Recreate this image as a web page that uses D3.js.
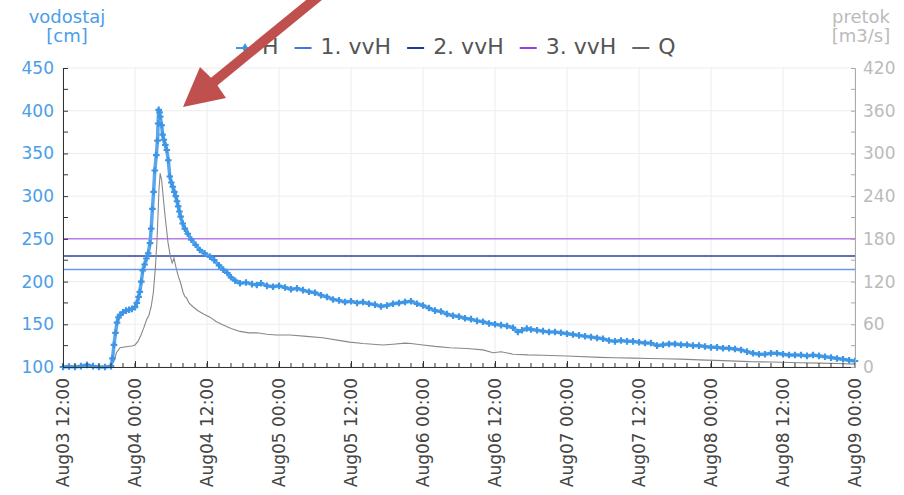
<!DOCTYPE html>
<html>
<head>
<meta charset="utf-8">
<script src="https://cdn.jsdelivr.net/npm/d3@7"></script>
<style>
  body { margin: 0; background: #fff; }
  svg { font-family: "DejaVu Sans", sans-serif; }
</style>
</head>
<body>
<div id="chart"></div>
<script>
// hours since Aug03 12:00
const hHours = [0,1,2,3,4,5,6,7,8,8.25,8.5,8.75,9,9.25,9.5,10,10.5,11,11.5,12,12.3,12.6,12.8,13.05,13.3,13.6,13.9,14.2,14.5,14.7,14.9,15.1,15.3,15.55,15.75,15.85,15.95,16.1,16.2,16.45,16.6,16.8,17.05,17.3,17.55,17.8,18.05,18.3,18.55,18.8,19,19.2,19.4,19.6,19.95,20.3,20.8,21.4,22.1,22.8,23.6,24.5,25.2,26,26.7,27.4,28,28.7,29.5,30.5,31.5,32.3,33,34,35,36,37,38,39,40,41,42,43,44,45,46,47,48,49,50,51,52,53,54,55,56,57,58,59,60,61,62,63,64,65,66,67,68,69,70,71,72,73,74,75,75.8,76.5,77.3,78,79,80,81,82,83,84,85,86,87,88,89,90,91,92,93,94,95,96,97,98,99,100,101,102,103,104,105,106,107,108,109,110,111,112,113,114,115,116,117,118,119,120,121,122,123,124,125,126,127,128,129,130,131,132];
const hValues = [100,100.5,100,101,102.5,101,100,100,101,110,126,140,152,158,161,164,166,167,168,170,175,182,188,200,213,220,227,233,245,262,285,305,330,348,365,385,401,398,393,383,372,366,360,354,342,323,316,311,305,300,294,288,282,276,268,262,256,249,243,237,233,229,225,219,214,210,205,201,198,199,197,196,198,195,194,195,193,191,192,190,188,187,184,182,179,178,176,177,175,176,174,173,171,172,174,175,176,177,174,172,169,166,165,162,160,159,157,156,154,153,151,150,149,148,146,141,143,145,144,143,142,141,141,140,139,138,137,136,135,134,133,131,130,131,130,130,129,128,128,125,126,127,127,126,126,125,125,124,123,123,122,122,121,120,118,116,115,115,116,116,115,114,114,114,113,114,113,112,111,110,109,108,107];

const qHours = [0,1,2,3,4,5,6,7,8,8.5,8.9,9.5,10.5,11.5,12,12.5,13,13.5,14,14.3,14.7,15.05,15.4,15.65,15.8,16,16.2,16.45,16.8,17.1,17.5,17.9,18.2,18.5,18.8,19.2,19.6,20,20.3,20.6,21,21.6,22.5,23.5,24.5,25.5,26.7,28,29.5,31,32.3,34,35.5,37.8,40.6,43.3,46.2,47.8,50,53.3,55,57,58,60,62,64.5,67.3,70,71.7,73,75,77.5,80,84,89.5,92,95,97.8,100,103,106,110,114.5,118,122.8,126,129,132];
const qValues = [0.5,0.5,0.5,0.5,0.5,0.5,0.5,0.5,1,8,20,27,28.5,29.5,31,36,45,56,68,72,85,104,140,175,206,250,272,262,230,205,175,155,146,153,141,128,118,105,99,97,90,85,79,74,70,64,59,54,50,48,48,46,45,45,43,41,37,35,33,31,32,33.5,33,31,29,27,26,24,20,21.5,18,17,16.5,15.5,13.5,13,12.5,12,11.5,11,10,9,7.5,7,6,5.5,5,4];

const thresholdNames = ["1. vvH", "2. vvH", "3. vvH"];
const thresholdValues = [214, 230, 250];
const thresholdColors = ["#3c78e6", "#2038a0", "#9b3ae6"];

const legendNames = ["H", "1. vvH", "2. vvH", "3. vvH", "Q"];
const legendColors = ["#3d95e6", "#3c78e6", "#2038a0", "#9b3ae6", "#666"];

const leftTicks = [100, 150, 200, 250, 300, 350, 400, 450];
const rightTicks = [0, 60, 120, 180, 240, 300, 360, 420];

const W = 904, H = 495;
const margin = {left: 63, right: 49, top: 68, bottom: 128};
const start = Date.UTC(2023, 7, 3, 12);
const end = Date.UTC(2023, 7, 9, 0);
const toDate = h => new Date(start + h * 3600e3);

const svg = d3.select("#chart").append("svg").attr("width", W).attr("height", H);

const x = d3.scaleUtc().domain([new Date(start), new Date(end)]).range([margin.left, W - margin.right]);
const yL = d3.scaleLinear().domain([100, 450]).range([H - margin.bottom, margin.top]);
const yR = d3.scaleLinear().domain([0, 420]).range([H - margin.bottom, margin.top]);

const major = x.ticks(d3.utcHour.every(12));
const minor = x.ticks(d3.utcHour.every(2));

// grid
const grid = svg.append("g");
grid.selectAll("line.v").data(major).join("line")
  .attr("x1", d => x(d)).attr("x2", d => x(d))
  .attr("y1", margin.top).attr("y2", H - margin.bottom)
  .attr("stroke", "#ececec").attr("stroke-width", 1);
grid.selectAll("line.h").data(leftTicks).join("line")
  .attr("x1", margin.left).attr("x2", W - margin.right)
  .attr("y1", d => yL(d)).attr("y2", d => yL(d))
  .attr("stroke", "#ececec").attr("stroke-width", 1);

// threshold lines
svg.append("g").selectAll("line").data(thresholdValues).join("line")
  .attr("x1", margin.left).attr("x2", W - margin.right)
  .attr("y1", d => yL(d)).attr("y2", d => yL(d))
  .attr("stroke", (d, i) => thresholdColors[i])
  .attr("stroke-opacity", (d, i) => [0.75, 0.95, 0.65][i])
  .attr("stroke-width", 1.5);

// Q line
const qData = qHours.map((h, i) => [toDate(h), qValues[i]]);
svg.append("path").datum(qData)
  .attr("fill", "none").attr("stroke", "#888").attr("stroke-width", 1.1)
  .attr("d", d3.line().x(d => x(d[0])).y(d => yR(d[1])));

// H line + markers
const hData = hHours.map((h, i) => [toDate(h), hValues[i]]);
svg.append("path").datum(hData)
  .attr("fill", "none").attr("stroke", "#5aa5ec").attr("stroke-width", 3.5)
  .attr("stroke-linejoin", "round")
  .attr("d", d3.line().x(d => x(d[0])).y(d => yL(d[1])));
svg.append("g").selectAll("path").data(hData).join("path")
  .attr("transform", d => `translate(${x(d[0])},${yL(d[1])})`)
  .attr("d", d3.symbol(d3.symbolCross, 24))
  .attr("fill", "#3d95e6");

// axes
const gx = svg.append("g").attr("transform", `translate(0,${H - margin.bottom})`)
  .call(d3.axisBottom(x).tickValues(major).tickSize(-6).tickFormat(d3.utcFormat("%b%d %H:%M")));
gx.append("g").selectAll("line").data(minor).join("line")
  .attr("x1", d => x(d)).attr("x2", d => x(d)).attr("y1", 0).attr("y2", -4)
  .attr("stroke", "#333");
gx.select(".domain").attr("stroke", "#333");
gx.selectAll(".tick line").attr("stroke", "#333");
gx.selectAll(".tick text")
  .attr("transform", "rotate(-90)")
  .attr("x", -11).attr("y", 0).attr("dy", "0.35em")
  .attr("text-anchor", "end")
  .attr("font-size", 17).attr("fill", "#444")
  .attr("font-family", "DejaVu Sans");

const gl = svg.append("g").attr("transform", `translate(${margin.left},0)`)
  .call(d3.axisLeft(yL).tickValues(leftTicks).tickSize(-5).tickPadding(9));
gl.append("g").selectAll("line").data(d3.range(125, 450, 50)).join("line")
  .attr("x1", 0).attr("x2", 5).attr("y1", d => yL(d)).attr("y2", d => yL(d)).attr("stroke", "#333");
gl.select(".domain").attr("stroke", "#333");
gl.selectAll(".tick line").attr("stroke", "#333");
gl.selectAll(".tick text").attr("font-size", 17).attr("fill", "#4a9ee8").attr("font-family", "DejaVu Sans");

const gr = svg.append("g").attr("transform", `translate(${W - margin.right},0)`)
  .call(d3.axisRight(yR).tickValues(rightTicks).tickSize(-4).tickPadding(8));
gr.append("g").selectAll("line").data(d3.range(30, 420, 60)).join("line")
  .attr("x1", 0).attr("x2", -4).attr("y1", d => yR(d)).attr("y2", d => yR(d)).attr("stroke", "#aaa");
gr.select(".domain").attr("stroke", "#aaa");
gr.selectAll(".tick line").attr("stroke", "#aaa");
gr.selectAll(".tick text").attr("font-size", 17).attr("fill", "#bbb").attr("font-family", "DejaVu Sans");

// axis titles
svg.append("text").attr("x", 67).attr("y", 23).attr("text-anchor", "middle")
  .attr("font-size", 18).attr("fill", "#4a9ee8").text("vodostaj");
svg.append("text").attr("x", 67).attr("y", 42).attr("text-anchor", "middle")
  .attr("font-size", 18).attr("fill", "#4a9ee8").text("[cm]");
svg.append("text").attr("x", 861).attr("y", 23).attr("text-anchor", "middle")
  .attr("font-size", 18).attr("fill", "#bbb").text("pretok");
svg.append("text").attr("x", 861).attr("y", 42).attr("text-anchor", "middle")
  .attr("font-size", 18).attr("fill", "#bbb").text("[m3/s]");

// legend
const legend = svg.append("g");
let lx = 236;
legendNames.forEach((name, i) => {
  const g = legend.append("g").attr("transform", `translate(${lx},0)`);
  g.append("line").attr("x1", 0).attr("x2", 17).attr("y1", 48).attr("y2", 48)
    .attr("stroke", legendColors[i]).attr("stroke-width", 2);
  if (i === 0) {
    g.append("path").attr("transform", "translate(9,48)")
      .attr("d", d3.symbol(d3.symbolDiamond, 30)).attr("fill", legendColors[0]);
  }
  const t = g.append("text").attr("x", 26).attr("y", 54)
    .attr("font-size", 22).attr("fill", "#555").text(name);
  lx += 26 + t.node().getComputedTextLength() + 16;
});

// red arrow
const tip = [183, 107], wingA = [200, 67], wingB = [226, 98];
const base = [(wingA[0] + wingB[0]) / 2, (wingA[1] + wingB[1]) / 2];
const dir = [base[0] - tip[0], base[1] - tip[1]];
const len = Math.hypot(dir[0], dir[1]);
const u = [dir[0] / len, dir[1] / len];
const far = [base[0] + u[0] * 200, base[1] + u[1] * 200];
svg.append("line")
  .attr("x1", base[0] - u[0] * 4).attr("y1", base[1] - u[1] * 4)
  .attr("x2", far[0]).attr("y2", far[1])
  .attr("stroke", "#c0504d").attr("stroke-width", 10);
svg.append("path")
  .attr("d", d3.line()([tip, wingA, [base[0] + u[0] * 2, base[1] + u[1] * 2], wingB]) + "Z")
  .attr("fill", "#c0504d");
</script>
</body>
</html>
